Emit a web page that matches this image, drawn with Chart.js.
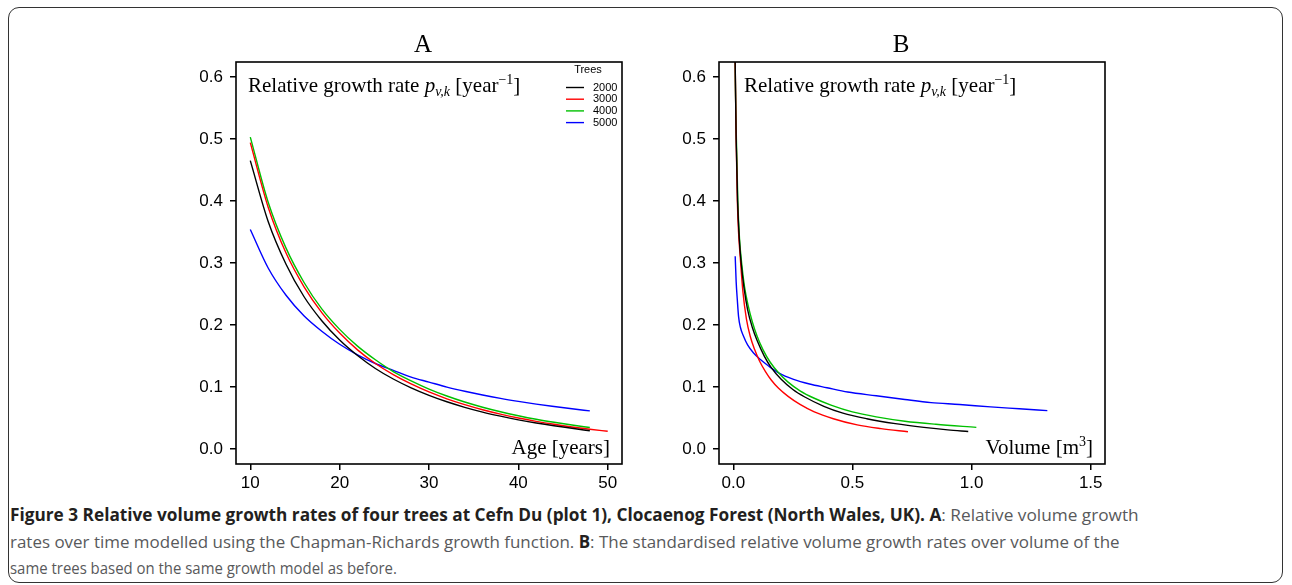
<!DOCTYPE html>
<html>
<head>
<meta charset="utf-8">
<script src="https://cdn.jsdelivr.net/npm/chart.js@4"></script>
<style>
  body { margin: 0; background: #fff; width: 1292px; height: 585px; overflow: hidden; position: relative; }
  #frame { position: absolute; left: 8px; top: 7px; width: 1273px; height: 574px; border: 1.5px solid #333; border-radius: 11px; }
  .panel { position: absolute; top: 20px; width: 470px; height: 480px; }
  #panelA { left: 170px; }
  #panelB { left: 650px; }
  .cap { position: absolute; left: 10px; white-space: nowrap; font-family: "Open Sans", sans-serif; font-size: 17px; line-height: 20px; color: #58595b; transform-origin: left center; }
  .cap b { color: #231f20; }
</style>
</head>
<body>
<div id="frame"></div>
<div class="panel" id="panelA"><canvas id="chartA"></canvas></div>
<div class="panel" id="panelB"><canvas id="chartB"></canvas></div>
<div class="cap" id="cap1" data-w="1129" style="top:505px"><b>Figure 3 Relative volume growth rates of four trees at Cefn Du (plot 1), Clocaenog Forest (North Wales, UK). A</b>: Relative volume growth</div>
<div class="cap" id="cap2" data-w="1110" style="top:532px">rates over time modelled using the Chapman-Richards growth function. <b>B</b>: The standardised relative volume growth rates over volume of the</div>
<div class="cap" id="cap3" data-w="387" style="top:558px">same trees based on the same growth model as before.</div>
<script>
const trees = ['2000', '3000', '4000', '5000'];
const treeColors = ['#000000', '#ff0000', '#00c000', '#0000ff'];

// panel A: relative growth rate over age
const agesA = [10, 12, 14, 16, 18, 20, 22, 24, 26, 28, 30, 32, 34, 36, 38, 40, 42, 44, 46, 48, 50];
const rate2000A = [0.465, 0.367, 0.298, 0.246, 0.207, 0.176, 0.151, 0.130, 0.113, 0.0988, 0.0867, 0.0763, 0.0674, 0.0597, 0.0531, 0.0472, 0.0421, 0.0376, 0.0336, 0.0295];
const rate3000A = [0.494, 0.390, 0.316, 0.262, 0.220, 0.187, 0.160, 0.138, 0.120, 0.105, 0.0921, 0.0811, 0.0717, 0.0635, 0.0564, 0.0502, 0.0448, 0.0400, 0.0357, 0.0320, 0.0287];
const rate4000A = [0.503, 0.398, 0.324, 0.269, 0.226, 0.193, 0.166, 0.144, 0.125, 0.110, 0.0968, 0.0856, 0.0759, 0.0675, 0.0602, 0.0538, 0.0481, 0.0432, 0.0388, 0.0348];
const rate5000A = [0.354, 0.292, 0.248, 0.215, 0.190, 0.169, 0.152, 0.138, 0.127, 0.116, 0.108, 0.100, 0.0932, 0.0872, 0.0818, 0.0770, 0.0726, 0.0687, 0.0650, 0.0616];
const xTicksA = [10, 20, 30, 40, 50];

// panel B: standardised relative growth rate over volume
const vol2000B = [0.005, 0.008, 0.012, 0.018, 0.025, 0.033, 0.045, 0.06, 0.08, 0.10, 0.13, 0.16, 0.20, 0.25, 0.30, 0.38, 0.46, 0.56, 0.68, 0.80, 0.90, 0.986];
const rate2000B = [0.80, 0.62, 0.50, 0.40, 0.34, 0.30, 0.26, 0.225, 0.196, 0.175, 0.150, 0.131, 0.113, 0.096, 0.084, 0.069, 0.058, 0.049, 0.041, 0.035, 0.031, 0.0285];
const vol3000B = [0.005, 0.008, 0.012, 0.017, 0.022, 0.029, 0.04, 0.055, 0.071, 0.09, 0.11, 0.135, 0.16, 0.19, 0.23, 0.28, 0.34, 0.42, 0.52, 0.62, 0.733];
const rate3000B = [0.80, 0.62, 0.50, 0.40, 0.35, 0.31, 0.255, 0.21, 0.182, 0.160, 0.142, 0.125, 0.111, 0.098, 0.085, 0.072, 0.060, 0.049, 0.039, 0.033, 0.028];
const vol4000B = [0.005, 0.008, 0.013, 0.019, 0.026, 0.035, 0.047, 0.062, 0.08, 0.10, 0.125, 0.155, 0.19, 0.23, 0.28, 0.34, 0.41, 0.50, 0.60, 0.72, 0.85, 1.02];
const rate4000B = [0.80, 0.62, 0.50, 0.40, 0.34, 0.30, 0.262, 0.232, 0.205, 0.182, 0.160, 0.140, 0.123, 0.108, 0.094, 0.082, 0.071, 0.060, 0.052, 0.045, 0.040, 0.035];
const vol5000B = [0.008, 0.012, 0.017, 0.022, 0.03, 0.043, 0.06, 0.085, 0.115, 0.148, 0.19, 0.253, 0.32, 0.393, 0.48, 0.60, 0.72, 0.83, 0.95, 1.08, 1.20, 1.318];
const rate5000B = [0.311, 0.27, 0.24, 0.214, 0.196, 0.182, 0.168, 0.155, 0.144, 0.134, 0.123, 0.1125, 0.105, 0.099, 0.092, 0.086, 0.080, 0.075, 0.072, 0.068, 0.065, 0.062];
const xTicksB = [0, 0.5, 1.0, 1.5];

const yTicks = [0, 0.1, 0.2, 0.3, 0.4, 0.5, 0.6];

function pts(xs, ys) {
    return ys.map((y, i) => ({ x: xs[i], y: y }));
}

function makeDatasets(series) {
    return series.map((s, i) => ({
        label: trees[i],
        data: s,
        borderColor: treeColors[i],
        borderWidth: 1.4,
        pointRadius: 0,
        showLine: true,
        fill: false,
        cubicInterpolationMode: 'monotone'
    }));
}

function drawRich(ctx, x, y, parts) {
    parts.forEach(p => {
        ctx.font = p.font;
        ctx.fillText(p.t, x, y + (p.dy || 0));
        x += ctx.measureText(p.t).width;
    });
    return x;
}

function richWidth(ctx, parts) {
    let w = 0;
    parts.forEach(p => { ctx.font = p.font; w += ctx.measureText(p.t).width; });
    return w;
}

const serif = '"Liberation Serif", "Times New Roman", serif';

const decorPlugin = {
    id: 'decor',
    afterDatasetsDraw(chart, args, opts) {
        const ctx = chart.ctx;
        const a = chart.chartArea;
        ctx.save();
        // box round the plot
        ctx.strokeStyle = '#000';
        ctx.lineWidth = 1.6;
        ctx.strokeRect(a.left, a.top, a.right - a.left, a.bottom - a.top);

        ctx.fillStyle = '#000';
        ctx.textBaseline = 'alphabetic';
        // panel letter
        ctx.font = '25px ' + serif;
        ctx.textAlign = 'center';
        ctx.fillText(opts.letter, (a.left + a.right) / 2 + opts.letterDx, 32);

        // y label inside the box
        ctx.textAlign = 'left';
        drawRich(ctx, a.left + opts.labelDx, a.top + 30, [
            { t: 'Relative growth rate ', font: '21px ' + serif },
            { t: 'p', font: 'italic 21px ' + serif },
            { t: 'v,k', font: 'italic 14px ' + serif, dy: 4 },
            { t: ' [year', font: '21px ' + serif },
            { t: '\u22121', font: '14px ' + serif, dy: -8 },
            { t: ']', font: '21px ' + serif }
        ]);

        // x label inside the box, bottom right
        const xParts = opts.xParts;
        const w = richWidth(ctx, xParts);
        drawRich(ctx, a.right - 12 - w, a.bottom - 10, xParts);

        // legend
        if (opts.legend) {
            const lx = a.right - 56;
            ctx.font = '11px "Liberation Sans", Arial, sans-serif';
            ctx.textAlign = 'center';
            ctx.textBaseline = 'middle';
            ctx.fillText('Trees', lx + 22, a.top + 8);
            ctx.textAlign = 'left';
            chart.data.datasets.forEach((ds, i) => {
                const yy = a.top + 25.5 + i * 11.7;
                ctx.strokeStyle = ds.borderColor;
                ctx.lineWidth = 1.4;
                ctx.beginPath();
                ctx.moveTo(lx, yy);
                ctx.lineTo(lx + 18, yy);
                ctx.stroke();
                ctx.fillText(ds.label, lx + 27, yy);
            });
        }
        ctx.restore();
    }
};

function makeChart(id, datasets, xMin, xMax, xTicks, xFmt, yWidth, padRight, decor) {
    return new Chart(document.getElementById(id), {
        type: 'scatter',
        data: { datasets: datasets },
        options: {
            responsive: true,
            maintainAspectRatio: false,
            animation: false,
            layout: { padding: { top: 42, right: padRight, left: 0, bottom: 0 } },
            plugins: { legend: { display: false }, tooltip: { enabled: false }, decor: decor },
            scales: {
                x: {
                    type: 'linear',
                    min: xMin,
                    max: xMax,
                    afterBuildTicks: s => { s.ticks = xTicks.map(v => ({ value: v })); },
                    afterFit: s => { s.height = 36; },
                    border: { display: false },
                    grid: { display: true, drawOnChartArea: false, drawTicks: true, tickLength: 6, color: '#000', lineWidth: 1.5 },
                    ticks: { color: '#000', padding: 3, maxRotation: 0, font: { family: '"Liberation Sans", Arial, sans-serif', size: 17 }, callback: xFmt }
                },
                y: {
                    type: 'linear',
                    min: -0.024,
                    max: 0.624,
                    afterBuildTicks: s => { s.ticks = yTicks.map(v => ({ value: v })); },
                    afterFit: s => { s.width = yWidth; },
                    border: { display: false },
                    grid: { display: true, drawOnChartArea: false, drawTicks: true, tickLength: 6, color: '#000', lineWidth: 1.5 },
                    ticks: { color: '#000', padding: 7, font: { family: '"Liberation Sans", Arial, sans-serif', size: 17 }, callback: v => v.toFixed(1) }
                }
            }
        },
        plugins: [decorPlugin]
    });
}

makeChart('chartA',
    makeDatasets([pts(agesA, rate2000A), pts(agesA, rate3000A), pts(agesA, rate4000A), pts(agesA, rate5000A)]),
    8.4, 51.6, xTicksA, v => String(v), 66, 18,
    {
        letter: 'A', letterDx: -6, labelDx: 12, legend: true,
        xParts: [{ t: 'Age [years]', font: '21px ' + serif }]
    });

makeChart('chartB',
    makeDatasets([pts(vol2000B, rate2000B), pts(vol3000B, rate3000B), pts(vol4000B, rate4000B), pts(vol5000B, rate5000B)]),
    -0.06, 1.56, xTicksB, v => v.toFixed(1), 69, 15,
    {
        letter: 'B', letterDx: -11, labelDx: 25, legend: false,
        xParts: [
            { t: 'Volume [m', font: '21px ' + serif },
            { t: '3', font: '14px ' + serif, dy: -8 },
            { t: ']', font: '21px ' + serif }
        ]
    });

// squeeze caption lines to the widths they have in the figure
document.querySelectorAll('.cap').forEach(el => {
    const target = parseFloat(el.dataset.w);
    el.style.transform = 'scaleX(' + (target / el.offsetWidth) + ')';
});
</script>
</body>
</html>
